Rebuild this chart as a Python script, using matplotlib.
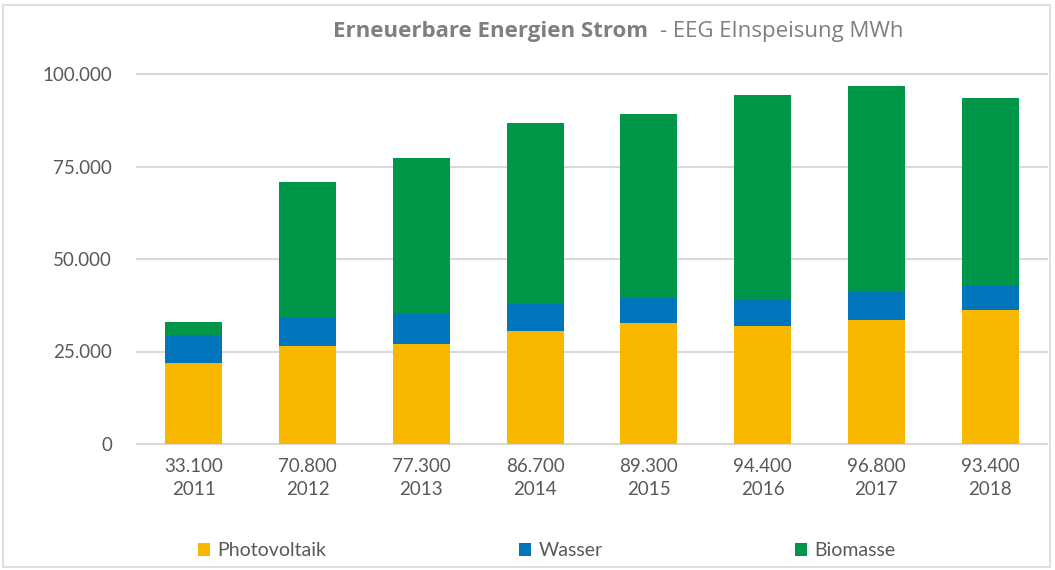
import numpy as np
import matplotlib
matplotlib.use("Agg")
import matplotlib.pyplot as plt
from matplotlib.patches import Rectangle

years = ["2011", "2012", "2013", "2014", "2015", "2016", "2017", "2018"]
totals = [33100, 70800, 77300, 86700, 89300, 94400, 96800, 93400]
photovoltaik = [21800, 26600, 27000, 30500, 32800, 32000, 33400, 36200]
wasser = [7700, 7700, 8100, 7400, 6700, 6800, 7700, 6700]
biomasse = [t - p - w for t, p, w in zip(totals, photovoltaik, wasser)]

yticks = [0, 25000, 50000, 75000, 100000]

def de_fmt(v):
    return "{:,}".format(v).replace(",", ".")

plt.rcParams['font.family'] = ['Lato', 'DejaVu Sans']
grey = '#595959'

fig = plt.figure(figsize=(10.55, 5.70), dpi=100)
ax = fig.add_axes([137/1055, 1 - 444/570, 910/1055, 370/570])

x = np.arange(len(years))
w = 0.5
ax.bar(x, photovoltaik, w, color='#F9B800', label='Photovoltaik', zorder=3)
ax.bar(x, wasser, w, bottom=photovoltaik, color='#0075BC', label='Wasser', zorder=3)
bottom2 = [p + q for p, q in zip(photovoltaik, wasser)]
ax.bar(x, biomasse, w, bottom=bottom2, color='#00964A', label='Biomasse', zorder=3)

ax.set_xlim(-0.5, len(years) - 0.5)
ax.set_ylim(0, 100000)
ax.set_yticks(yticks)
ax.set_yticklabels([de_fmt(v) for v in yticks], fontsize=13.5, color=grey)
ax.set_xticks(x)
ax.set_xticklabels([de_fmt(t) + "\n" + y for t, y in zip(totals, years)],
                   fontsize=13.5, color=grey, linespacing=1.45)
ax.tick_params(length=0)
ax.tick_params(axis='y', pad=18)
ax.tick_params(axis='x', pad=10)
ax.grid(axis='y', color='#D9D9D9', linewidth=1.5, zorder=0, clip_on=False)
for s in ax.spines.values():
    s.set_visible(False)

handles, labels = ax.get_legend_handles_labels()
fig.legend(handles, labels, loc='center', bbox_to_anchor=(547/1055, 1 - 551/570),
           ncol=3, frameon=False, fontsize=14, labelcolor=grey,
           handlelength=0.6, handleheight=0.6, handletextpad=0.4, columnspacing=9.9)

fig.text(648/1055, 1 - 31/570, "Erneuerbare Energien Strom", ha='right', va='center',
         fontsize=16, fontweight='bold', color='#7F7F7F', family=['Open Sans', 'DejaVu Sans'])
fig.text(660/1055, 1 - 31/570, "- EEG EInspeisung MWh", ha='left', va='center',
         fontsize=16, color='#7F7F7F', family=['Open Sans', 'DejaVu Sans'])

fig.patches.append(Rectangle((3/1055, 3/570), 1047/1055, 562/570, transform=fig.transFigure,
                             fill=False, edgecolor='#D9D9D9', linewidth=1.2))

fig.savefig("out.png", dpi=100)
